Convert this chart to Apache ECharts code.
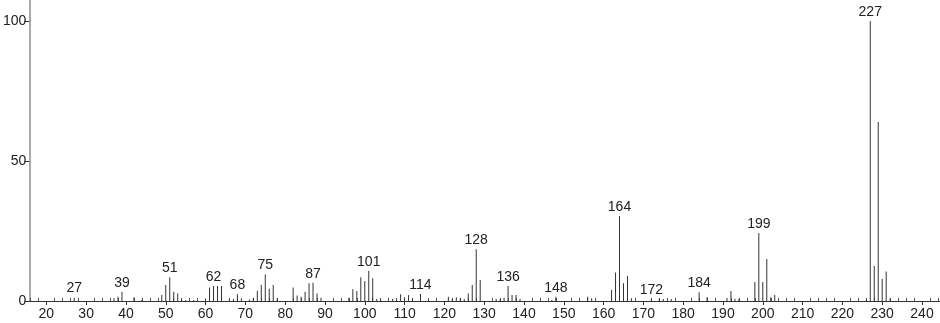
<!DOCTYPE html>
<html>
<head>
<meta charset="utf-8">
<script src="https://cdn.jsdelivr.net/npm/echarts@6/dist/echarts.min.js"></script>
<style>
html,body{margin:0;padding:0;background:#fff;}
#chart{width:940px;height:323px;}
</style>
</head>
<body>
<div id="chart"></div>
<script>
// m/z values and relative intensities
const masses = [27,37,38,39,42,44,49,50,51,52,53,54,55,57,60,61,62,63,64,66,67,68,69,71,72,73,74,75,76,77,78,
  82,83,84,85,86,87,88,89,96,97,98,99,100,101,102,103,104,107,108,109,110,111,112,114,116,
  121,122,123,124,125,126,127,128,129,133,134,135,136,137,138,139,147,148,156,157,
  162,163,164,165,166,167,172,174,175,177,184,186,191,192,193,194,198,199,200,201,202,203,
  226,227,228,229,230,231,232];
const intensities = [1.2,1.0,1.5,3.3,1.3,0.4,2.1,5.7,8.5,3.3,2.7,0.5,0.4,0.4,0.9,4.8,5.4,5.4,5.4,0.5,0.7,2.4,1.0,0.5,1.2,3.7,5.7,9.5,4.4,5.7,1.0,
  4.8,2.0,1.5,3.3,6.3,6.5,2.7,1.2,1.2,4.2,3.6,8.5,7.1,10.8,8.1,0.7,0.4,0.7,0.4,2.4,1.3,2.1,0.8,2.5,0.4,
  1.5,0.7,1.3,1.0,0.7,2.7,5.7,18.5,7.5,0.7,0.6,1.2,5.4,2.1,2.1,0.7,0.4,1.5,1.5,1.0,
  3.9,10.2,30.4,6.3,8.9,1.0,0.8,0.8,0.7,0.7,3.1,1.4,1.1,3.6,0.8,0.8,6.8,24.3,6.8,15.0,1.3,2.1,
  0.4,100,12.5,63.9,7.9,10.5,1.1];
const labeledMasses = [27,39,51,62,68,75,87,101,114,128,136,148,164,172,184,199,227];
const xTickLabels = [20,30,40,50,60,70,80,90,100,110,120,130,140,150,160,170,180,190,200,210,220,230,240];
const xMinorTicks = [];
for (let v = 16; v <= 244; v += 2) { if (v % 10 !== 0) xMinorTicks.push(v); }
const yTickLabels = [0,50,100];

const FONT = '"Liberation Sans", Arial, sans-serif';
const data = masses.map((m, i) => {
  const item = { value: [m, intensities[i]] };
  if (labeledMasses.includes(m)) {
    item.label = { show: true };
  }
  return item;
});

const chart = echarts.init(document.getElementById('chart'), null, { renderer: 'canvas' });
chart.setOption({
  animation: false,
  backgroundColor: '#ffffff',
  grid: { left: 29, right: 0, top: 0, bottom: 22, containLabel: false },
  xAxis: [{
    type: 'value',
    min: 15.73, max: 244.52,
    axisLine: { show: true, lineStyle: { color: '#333', width: 1 } },
    axisTick: { show: true, customValues: xTickLabels, length: 4, inside: false, lineStyle: { color: '#333' } },
    axisLabel: { show: true, customValues: xTickLabels, margin: 6, fontSize: 14, fontFamily: FONT, color: '#222' },
    splitLine: { show: false }
  }, {
    type: 'value',
    min: 15.73, max: 244.52,
    position: 'bottom',
    axisLine: { show: false },
    axisTick: { show: true, customValues: xMinorTicks, length: 3, inside: true, lineStyle: { color: '#555' } },
    axisLabel: { show: false },
    splitLine: { show: false }
  }],
  yAxis: {
    type: 'value',
    min: 0, max: 107.5,
    axisLine: { show: true, lineStyle: { color: '#aaa', width: 2 } },
    axisTick: { show: true, customValues: yTickLabels, length: 5, lineStyle: { color: '#333' } },
    axisLabel: { show: true, customValues: yTickLabels, margin: 3, fontSize: 14, fontFamily: FONT, color: '#222' },
    splitLine: { show: false }
  },
  series: [{
    type: 'bar',
    xAxisIndex: 0,
    barWidth: 1,
    itemStyle: { color: '#333' },
    label: {
      show: false,
      position: 'top',
      distance: 2,
      fontSize: 14,
      fontFamily: FONT,
      color: '#222',
      formatter: p => String(p.value[0])
    },
    data: data
  }]
});
</script>
</body>
</html>
